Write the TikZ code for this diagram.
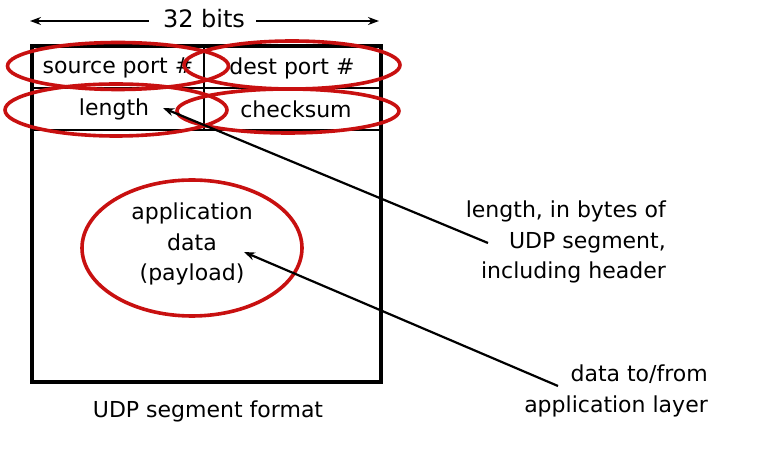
\documentclass[tikz,border=0pt]{standalone}
\usepackage{fontspec}
\setmainfont{DejaVu Sans}
\usetikzlibrary{shapes.geometric,arrows.meta}
\definecolor{ovalred}{RGB}{200,16,16}
\begin{document}
\begin{tikzpicture}[x=1pt,y=-1pt,
  txt/.style={font=\fontsize{22}{30.5}\selectfont, inner sep=0pt, text=black},
  oval/.style={ellipse, draw=ovalred, line width=3.6pt, inner sep=0pt},
  frame/.style={draw=black, line width=3.6pt},
  rule/.style={draw=black, line width=2.6pt},
  pointer/.style={draw=black, line width=2.2pt, -{Stealth[length=11pt,width=8pt]}}]
\useasboundingbox[fill=white] (0,0) rectangle (769,454);
% frame
\coordinate (tl) at (32,46);
\coordinate (br) at (381,382);
\draw[frame] (tl) rectangle (br);
\coordinate (r1l) at (32,88);  \coordinate (r1r) at (381,88);
\coordinate (r2l) at (32,130); \coordinate (r2r) at (381,130);
\coordinate (vt) at (204,46);  \coordinate (vb) at (204,130);
\draw[rule] (r1l) -- (r1r);
\draw[rule] (r2l) -- (r2r);
\draw[rule] (vt) -- (vb);
% 32 bits
\node[txt, font=\fontsize{24}{28}\selectfont] (bits) at (204,19) {32 bits};
\coordinate (bl) at (30,21); \coordinate (brr) at (379,21);
\draw[pointer, line width=1.8pt] (bits.west) ++(-14,2) coordinate (bwl) -- (bl);
\draw[pointer, line width=1.8pt] (bits.east) ++(11,2) coordinate (bwr) -- (brr);
% header fields
\node[txt] (src) at (118,68) {source port \#};
\node[txt] (dst) at (292,68) {dest port \#};
\node[txt] (len) at (114,109) {length};
\node[txt] (chk) at (296,109) {checksum};
% ovals
\node[oval, minimum width=221pt, minimum height=47pt] (osrc) at (118,66) {};
\node[oval, minimum width=216pt, minimum height=48pt] (odst) at (292,65) {};
\node[oval, minimum width=222pt, minimum height=52pt] (olen) at (116,110) {};
\node[oval, minimum width=222pt, minimum height=44pt] (ochk) at (288,111) {};
% payload
\node[txt, align=center] (app) at (192,244) {application\\data\\(payload)};
\node[oval, minimum width=220pt, minimum height=136pt] (oapp) at (192,248) {};
% annotations
\node[txt, align=right, anchor=east] (lenlab) at (666,242) {length, in bytes of\\UDP segment,\\including header};
\node[txt, align=right, anchor=east] (datlab) at (708,391) {data to/from\\application layer};
\node[txt] (cap) at (208,411) {UDP segment format};
% pointers
\coordinate (p1s) at (488,243);
\coordinate (p1e) at (163,108);
\coordinate (p2s) at (558,386);
\coordinate (p2e) at (244,252);
\draw[pointer] (p1s) -- (p1e);
\draw[pointer] (p2s) -- (p2e);
\end{tikzpicture}
\end{document}
